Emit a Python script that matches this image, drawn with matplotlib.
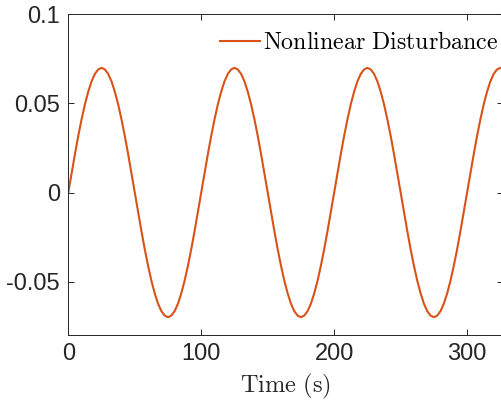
import numpy as np
import matplotlib
matplotlib.use("Agg")
import matplotlib.pyplot as plt

plt.rcParams['font.family'] = ['Liberation Sans', 'DejaVu Sans']
plt.rcParams['mathtext.fontset'] = 'cm'

period_values = [
    0.0000, 0.0109, 0.0216, 0.0318, 0.0411, 0.0495, 0.0566, 0.0624, 0.0666, 0.0691,
    0.0700, 0.0691, 0.0666, 0.0624, 0.0566, 0.0495, 0.0411, 0.0318, 0.0216, 0.0109,
    0.0000, -0.0109, -0.0216, -0.0318, -0.0411, -0.0495, -0.0566, -0.0624, -0.0666, -0.0691,
    -0.0700, -0.0691, -0.0666, -0.0624, -0.0566, -0.0495, -0.0411, -0.0318, -0.0216, -0.0109,
]
tail_values = [0.0000, 0.0109, 0.0216, 0.0318, 0.0411, 0.0495, 0.0566, 0.0624, 0.0666,
               0.0691, 0.0700, 0.0691, 0.0666]
disturbance = period_values * 3 + tail_values
time_s = np.arange(len(disturbance)) * 2.5

series_label = r'$\mathrm{Nonlinear\ Disturbance}$'
xlabel = r'$\mathrm{Time\ (s)}$'
xticks = [0, 100, 200, 300]
yticks = [-0.05, 0, 0.05, 0.1]
yticklabels = ['-0.05', '0', '0.05', '0.1']

fig = plt.figure(figsize=(5.02, 4.0), dpi=100)
ax = fig.add_axes([68.3 / 502, 1 - 335 / 400, (503 - 68.3) / 502, (335 - 14.4) / 400])

ax.plot(time_s, disturbance, color='#D95319', linewidth=1.5, label=series_label)
ax.set_xlim(0, 327)
ax.set_ylim(-0.08, 0.1)
ax.set_xticks(xticks)
ax.set_xticklabels([str(v) for v in xticks])
ax.set_yticks(yticks)
ax.set_yticklabels(yticklabels)

edge = '#262626'
for s in ax.spines.values():
    s.set_color(edge)
    s.set_linewidth(0.7)
ax.tick_params(direction='in', length=4.5, width=0.7, color=edge, labelcolor=edge,
               labelsize=17, top=True, right=True, pad=6)
ax.set_xlabel(xlabel, fontsize=17.6, color=edge, labelpad=5)

leg = ax.legend(loc='upper right', bbox_to_anchor=(0.990, 0.945), frameon=False,
                fontsize=17.2, handlelength=1.67, handletextpad=0.15, borderpad=0,
                borderaxespad=0)
for t in leg.get_texts():
    t.set_color('black')

fig.savefig('out.png', dpi=100)
